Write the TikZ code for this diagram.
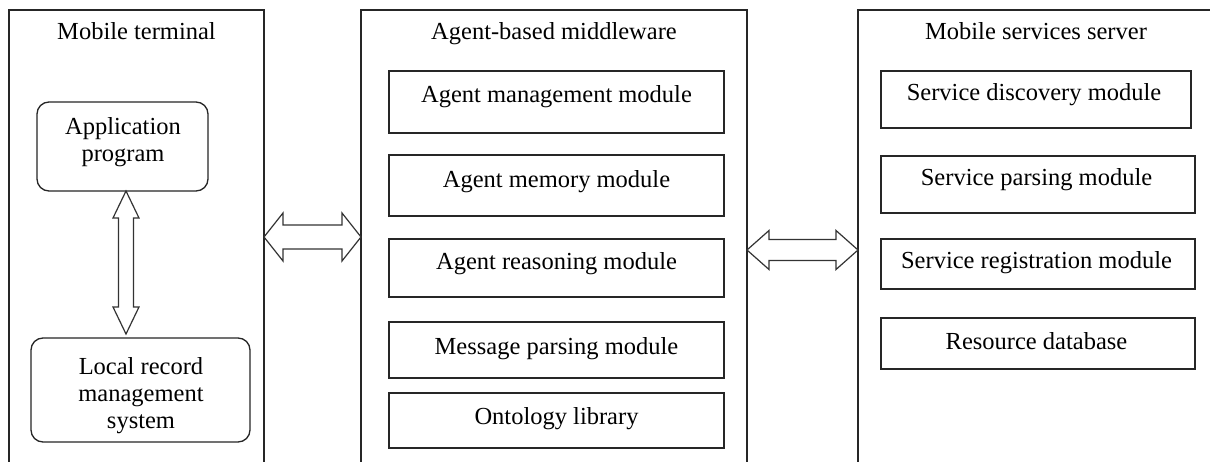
\documentclass[tikz,border=0pt]{standalone}
\usepackage{fontspec}
\setmainfont{Liberation Serif}
\usetikzlibrary{calc}
\tikzset{
  ln/.style={line width=1.3pt, draw=black!85},
  box/.style={ln, rectangle, inner sep=0pt},
  rbox/.style={box, rounded corners=12pt},
  txt/.style={font=\fontsize{24.5}{27}\selectfont, inner sep=0pt, anchor=base},
  mtxt/.style={font=\fontsize{24.5}{27}\selectfont, inner sep=0pt, align=center},
  arr/.style={line width=1.2pt, draw=black!80, fill=white, line join=miter},
}
\newcommand\hdarrow[5]{%
  \draw[arr] (#1) -- ($(#1)+(#3,-#4)$) -- ($(#1)+(#3,-#5)$) -- ($(#2)+(-#3,-#5)$) -- ($(#2)+(-#3,-#4)$) -- (#2) -- ($(#2)+(-#3,#4)$) -- ($(#2)+(-#3,#5)$) -- ($(#1)+(#3,#5)$) -- ($(#1)+(#3,#4)$) -- cycle;}
\newcommand\vdarrow[5]{%
  \draw[arr] (#1) -- ($(#1)+(-#4,#3)$) -- ($(#1)+(-#5,#3)$) -- ($(#2)+(-#5,-#3)$) -- ($(#2)+(-#4,-#3)$) -- (#2) -- ($(#2)+(#4,-#3)$) -- ($(#2)+(#5,-#3)$) -- ($(#1)+(#5,#3)$) -- ($(#1)+(#4,#3)$) -- cycle;}
\begin{document}
\begin{tikzpicture}[x=1pt,y=-1pt]
\useasboundingbox (0,0) rectangle (1210,462);
\fill[white] (0,0) rectangle (1210,462);
\clip (0,0) rectangle (1210,462);

% panels
\draw[ln] (9,470) |- (264,10) -- (264,470);
\draw[ln] (361,470) |- (747,10) -- (747,470);
\draw[ln] (858,470) |- (1220,10);

% titles
\node[txt] (t1) at (136.5,40) {Mobile terminal};
\node[txt] (t2) at (554,40) {Agent-based middleware};
\node[txt] (t3) at (1036,40) {Mobile services server};

% left panel
\node[rbox, minimum width=171, minimum height=89] (app) at (122.5,146.5) {};
\node[mtxt] (appt) at (123,142) {Application\\program};
\node[rbox, minimum width=219, minimum height=104] (loc) at (140.5,390) {};
\node[mtxt] (loct) at (141,396) {Local record\\management\\system};

% middle panel
\node[box, minimum width=335, minimum height=62] (amm) at (556.5,102) {};
\node[txt] (ammt) at (556.5,103) {Agent management module};
\node[box, minimum width=335, minimum height=61] (amem) at (556.5,185.5) {};
\node[txt] (amemt) at (556.5,188) {Agent memory module};
\node[box, minimum width=335, minimum height=58] (arm) at (556.5,268) {};
\node[txt] (armt) at (556.5,270) {Agent reasoning module};
\node[box, minimum width=335, minimum height=56] (mpm) at (556.5,350) {};
\node[txt] (mpmt) at (556.5,354) {Message parsing module};
\node[box, minimum width=335, minimum height=55] (onto) at (556.5,420.5) {};
\node[txt] (ontot) at (556.5,424) {Ontology library};

% right panel
\node[box, minimum width=310, minimum height=57] (sdm) at (1036,99.5) {};
\node[txt] (sdmt) at (1034,101) {Service discovery module};
\node[box, minimum width=314, minimum height=57] (spm) at (1038,184.5) {};
\node[txt] (spmt) at (1036.5,186) {Service parsing module};
\node[box, minimum width=314, minimum height=50] (srm) at (1038,264) {};
\node[txt] (srmt) at (1036.5,269) {Service registration module};
\node[box, minimum width=314, minimum height=51] (rdb) at (1038,343.5) {};
\node[txt] (rdbt) at (1036.5,349) {Resource database};

% connectors
\coordinate (va) at (126,191);
\coordinate (vb) at (126,334);
\vdarrow{va}{vb}{27}{13}{7.5}
\coordinate (la) at (264,237);
\coordinate (lb) at (361,237);
\hdarrow{la}{lb}{19}{24}{12}
\coordinate (ra) at (747,250);
\coordinate (rb) at (858,250);
\hdarrow{ra}{rb}{22}{19.5}{10.5}
\end{tikzpicture}
\end{document}
